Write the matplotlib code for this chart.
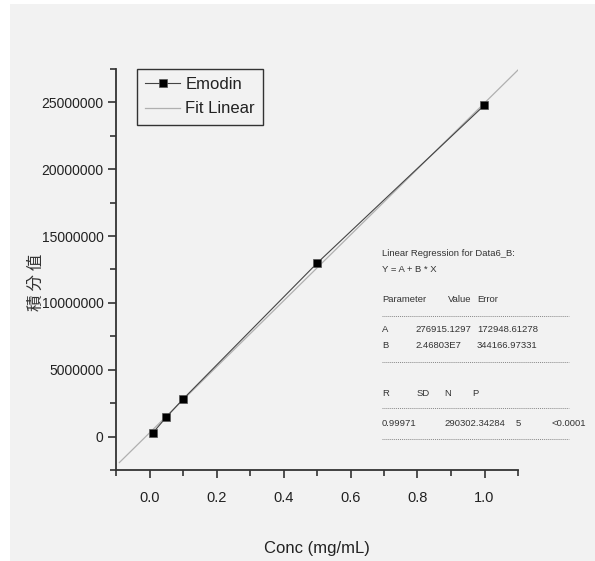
import numpy as np
import matplotlib
matplotlib.use('Agg')
import matplotlib.pyplot as plt
from matplotlib.patches import Rectangle
from matplotlib.lines import Line2D
from matplotlib.ticker import MultipleLocator

plt.rcParams['font.family'] = ['Liberation Sans', 'DejaVu Sans']

# calibration data for emodin
conc = [0.01, 0.05, 0.1, 0.5, 1.0]
area = [280000, 1450000, 2800000, 12970000, 24800000]

# linear fit parameters (Y = A + B * X)
fit_A = 276915.1297
fit_B = 2.46803e7
fit_range = [-0.09, 1.1]

W, H = 595, 561
fig = plt.figure(figsize=(W / 100, H / 100), dpi=100)
fig.patch.set_facecolor('white')
fig.patches.append(Rectangle((10 / W, 0), 1, 1 - 4 / H, transform=fig.transFigure,
                             facecolor='#f2f2f2', edgecolor='none', zorder=-10))

ax = fig.add_axes([116 / W, 1 - 470 / H, (518 - 116) / W, (470 - 69) / H])
ax.set_facecolor('none')

fit_x = np.array(fit_range)
ax.plot(conc, area, color='#444444', lw=0.8, marker='s', markersize=5.5,
        markerfacecolor='black', markeredgecolor='#555555', markeredgewidth=0.5,
        label='Emodin', zorder=3)
ax.plot(fit_x, fit_A + fit_B * fit_x, color='#b0b0b0', lw=0.9, label='Fit Linear', zorder=2)

ax.set_xlim(-0.1, 1.1)
ax.set_ylim(-2500000, 27500000)
ax.xaxis.set_major_locator(MultipleLocator(0.2))
ax.xaxis.set_minor_locator(MultipleLocator(0.1))
ax.yaxis.set_major_locator(MultipleLocator(5000000))
ax.yaxis.set_minor_locator(MultipleLocator(2500000))
ax.xaxis.set_major_formatter(matplotlib.ticker.FormatStrFormatter('%.1f'))
ax.yaxis.set_major_formatter(matplotlib.ticker.FormatStrFormatter('%d'))

for s in ['top', 'right']:
    ax.spines[s].set_visible(False)
for s in ['left', 'bottom']:
    ax.spines[s].set_linewidth(1.3)
    ax.spines[s].set_color('#333333')
ax.tick_params(which='major', direction='out', length=6, width=1.2, color='#333333',
               labelsize=10, labelcolor='#222222', pad=3)
ax.tick_params(which='minor', direction='out', length=4, width=1.2, color='#333333')
ax.tick_params(axis='x', labelsize=10.5, pad=9)

leg = ax.legend(loc='upper left', bbox_to_anchor=(0.052, 1.0), borderaxespad=0,
                fontsize=12, handlelength=2.1, handletextpad=0.3, labelspacing=0.55,
                borderpad=0.5, fancybox=False, framealpha=1)
leg.get_frame().set_facecolor('#f2f2f2')
leg.get_frame().set_edgecolor('#333333')
leg.get_frame().set_linewidth(1.0)
for t in leg.get_texts():
    t.set_color('#222222')

fig.text(317 / W, 1 - 548 / H, 'Conc (mg/mL)', ha='center', va='center',
         fontsize=12, color='#222222')
fig.text(36 / W, 1 - 282 / H, '積 分 值', ha='center', va='center', rotation=90,
         fontsize=12, color='#333333', family=['Noto Sans CJK TC', 'DejaVu Sans'])

# regression report
def put(x, y, s):
    fig.text(x / W, 1 - y / H, s, ha='left', va='center', fontsize=6.8, color='#333333')

def dash(y):
    fig.add_artist(Line2D([382 / W, 569 / W], [1 - y / H, 1 - y / H], transform=fig.transFigure,
                          color='#888888', lw=0.7, linestyle=(0, (1, 1))))

put(382, 254, 'Linear Regression for Data6_B:')
put(382, 269, 'Y = A + B * X')
put(382, 300, 'Parameter')
put(448, 300, 'Value')
put(477, 300, 'Error')
dash(316)
put(382, 330, 'A')
put(415, 330, '276915.1297')
put(477, 330, '172948.61278')
put(382, 346, 'B')
put(415, 346, '2.46803E7')
put(477, 346, '344166.97331')
dash(362)
put(382, 393, 'R')
put(417, 393, 'SD')
put(444, 393, 'N')
put(472, 393, 'P')
dash(408)
put(382, 423, '0.99971')
put(444, 423, '290302.34284')
put(516, 423, '5')
put(552, 423, '<0.0001')
dash(439)

fig.savefig('out.png', dpi=100, facecolor=fig.get_facecolor())
